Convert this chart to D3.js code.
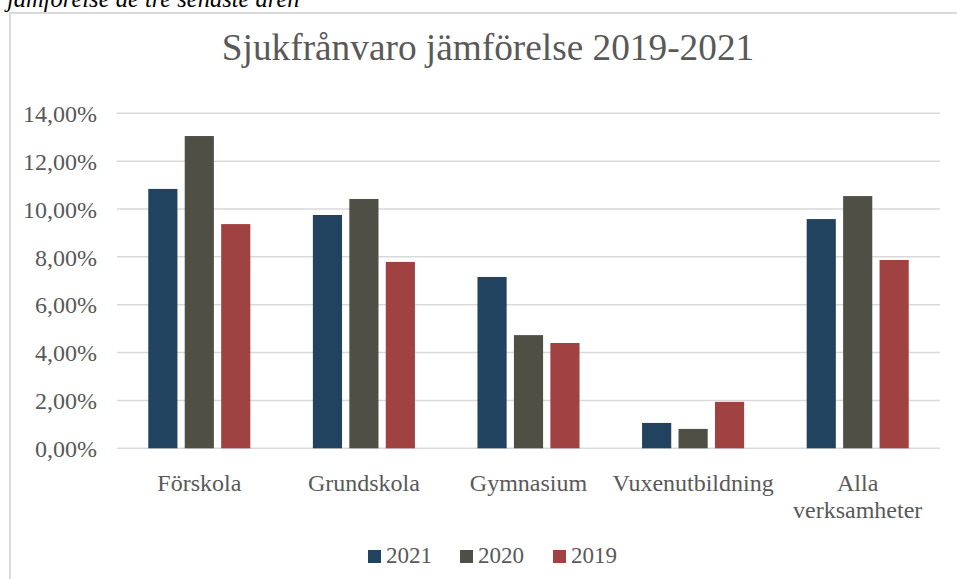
<script src="https://d3js.org/d3.v7.min.js"></script>

<html>
<body style="margin:0;background:#fff">
<div id="chart"></div>
</body>
<script>
    const categories = ['Förskola', 'Grundskola', 'Gymnasium', 'Vuxenutbildning', 'Alla verksamheter'];
    const years = ['2021', '2020', '2019'];
    const values2021 = [10.84, 9.75, 7.16, 1.06, 9.58];
    const values2020 = [13.05, 10.42, 4.73, 0.81, 10.54];
    const values2019 = [9.37, 7.79, 4.40, 1.94, 7.87];
    const yTicks = [0, 2, 4, 6, 8, 10, 12, 14];

    const series = [values2021, values2020, values2019];
    const colors = ['#21435f', '#4f4f46', '#a04142'];
    const textColor = '#595959';
    const font = "'Liberation Serif', 'Times New Roman', serif";

    const width = 957, height = 579;
    const plot = {left: 117, right: 940, top: 113.3, bottom: 448.3};

    const svg = d3.select('#chart').append('svg')
        .attr('width', width)
        .attr('height', height)
        .style('display', 'block');

    // caption of the document, cut off at the top
    svg.append('text')
        .attr('x', 7).attr('y', 7)
        .attr('font-family', font).attr('font-style', 'italic')
        .attr('font-size', 24.5).attr('fill', '#000')
        .text('jämförelse de tre senaste åren');

    // chart frame
    svg.append('path')
        .attr('d', `M10,${height} L10,13 L${width},13`)
        .attr('fill', 'none').attr('stroke', '#d9d9d9').attr('stroke-width', 2);

    svg.append('text')
        .attr('x', 488).attr('y', 60)
        .attr('text-anchor', 'middle')
        .attr('font-family', font).attr('font-size', 37.3)
        .attr('fill', textColor)
        .text('Sjukfrånvaro jämförelse 2019-2021');

    const y = d3.scaleLinear().domain([0, 14]).range([plot.bottom, plot.top]);
    const x0 = d3.scaleBand().domain(categories).range([plot.left, plot.right]).paddingInner(0.38).paddingOuter(0.19);
    const x1 = d3.scaleBand().domain(years).range([0, x0.bandwidth()]).paddingInner(0.2);

    // gridlines
    svg.append('g')
        .selectAll('line').data(yTicks).enter().append('line')
        .attr('x1', plot.left).attr('x2', plot.right)
        .attr('y1', d => y(d)).attr('y2', d => y(d))
        .attr('stroke', '#d9d9d9').attr('stroke-width', 1.5);

    // y axis labels
    const yAxis = d3.axisLeft(y).tickValues(yTicks).tickSize(0).tickPadding(0)
        .tickFormat(d => d3.format('.2f')(d).replace('.', ',') + '%');
    const ga = svg.append('g').attr('transform', 'translate(97,0)').call(yAxis);
    ga.select('.domain').remove();
    ga.selectAll('text')
        .attr('font-family', font).attr('font-size', 24).attr('fill', textColor)
        .attr('dy', '0.34em');

    // bars
    const groups = svg.append('g').selectAll('g').data(categories).enter().append('g')
        .attr('transform', d => `translate(${x0(d)},0)`);
    groups.selectAll('rect')
        .data((c, i) => series.map((s, j) => ({year: years[j], value: s[i], color: colors[j]})))
        .enter().append('rect')
        .attr('x', d => x1(d.year))
        .attr('width', x1.bandwidth())
        .attr('y', d => y(d.value))
        .attr('height', d => y(0) - y(d.value))
        .attr('fill', d => d.color);

    // category labels
    const catText = svg.append('g').selectAll('text').data(categories).enter().append('text')
        .attr('x', d => x0(d) + x0.bandwidth() / 2)
        .attr('y', 491)
        .attr('text-anchor', 'middle')
        .attr('font-family', font).attr('font-size', 24).attr('fill', textColor);
    catText.each(function (d) {
        const words = d === 'Alla verksamheter' ? ['Alla', 'verksamheter'] : [d];
        const t = d3.select(this);
        words.forEach((w, k) => {
            t.append('tspan').attr('x', x0(d) + x0.bandwidth() / 2).attr('dy', k === 0 ? 0 : 27).text(w);
        });
    });

    // legend
    const legendX = [368, 460, 553];
    const lg = svg.append('g').selectAll('g').data(years).enter().append('g')
        .attr('transform', (d, i) => `translate(${legendX[i]},550)`);
    lg.append('rect').attr('width', 13).attr('height', 13).attr('fill', (d, i) => colors[i]);
    lg.append('text').attr('x', 18).attr('y', 13)
        .attr('font-family', font).attr('font-size', 23).attr('fill', textColor)
        .text(d => d);
</script>
</html>
